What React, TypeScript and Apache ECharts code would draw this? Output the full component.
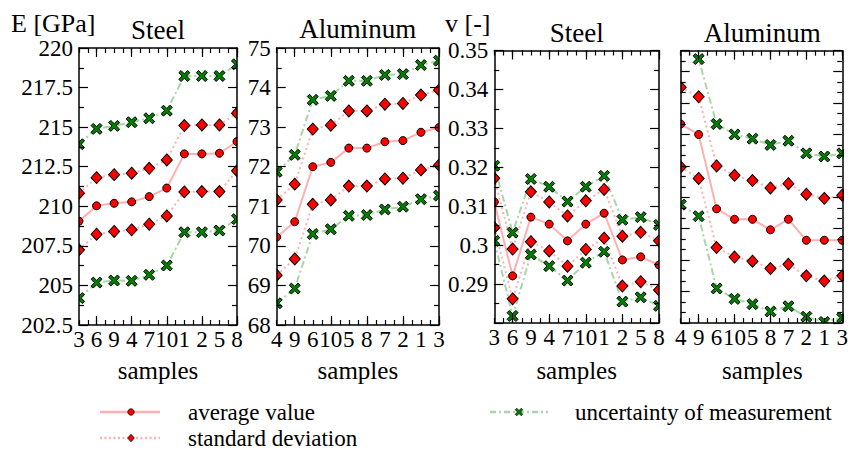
import React, { useEffect, useRef } from 'react';
import * as echarts from 'echarts';

// ---------- data ----------
const samplesSteel = ['3', '6', '9', '4', '7', '10', '1', '2', '5', '8'];
const samplesAlu = ['4', '9', '6', '10', '5', '8', '7', '2', '1', '3'];

// Young's modulus, steel [GPa]
const eSteelAvg = [209.06, 210.03, 210.19, 210.28, 210.61, 211.15, 213.31, 213.31, 213.35, 214.09];
const eSteelStdUp = [210.83, 211.81, 212.0, 212.09, 212.4, 212.93, 215.1, 215.14, 215.14, 215.88];
const eSteelStdLow = [207.25, 208.24, 208.41, 208.51, 208.87, 209.39, 210.91, 210.93, 210.93, 212.25];
const eSteelUncUp = [213.92, 214.89, 215.08, 215.31, 215.56, 216.04, 218.23, 218.23, 218.23, 218.97];
const eSteelUncLow = [204.2, 205.18, 205.31, 205.29, 205.67, 206.26, 208.36, 208.36, 208.47, 209.19];

// Young's modulus, aluminum [GPa]
const eAluAvg = [70.22, 70.61, 72.0, 72.11, 72.47, 72.47, 72.63, 72.66, 72.87, 72.99];
const eAluStdUp = [71.16, 71.56, 72.95, 73.05, 73.41, 73.41, 73.58, 73.6, 73.81, 73.94];
const eAluStdLow = [69.26, 69.67, 71.05, 71.16, 71.51, 71.51, 71.69, 71.71, 71.92, 72.04];
const eAluUncUp = [71.87, 72.3, 73.69, 73.79, 74.17, 74.17, 74.32, 74.34, 74.57, 74.68];
const eAluUncLow = [68.55, 68.92, 70.3, 70.42, 70.76, 70.78, 70.92, 70.99, 71.18, 71.27];

// Poisson ratio, steel [-]
const vSteelAvg = [0.3111, 0.2921, 0.3072, 0.3054, 0.3011, 0.3054, 0.3082, 0.2962, 0.297, 0.2949];
const vSteelStdUp = [0.3172, 0.299, 0.3137, 0.3111, 0.3075, 0.3114, 0.3143, 0.3023, 0.3033, 0.3011];
const vSteelStdLow = [0.3045, 0.2862, 0.3009, 0.2985, 0.2946, 0.2989, 0.3018, 0.2895, 0.2906, 0.2885];
const vSteelUncUp = [0.3204, 0.3032, 0.317, 0.315, 0.3112, 0.315, 0.3178, 0.3065, 0.3072, 0.3052];
const vSteelUncLow = [0.3011, 0.2818, 0.2976, 0.2946, 0.2909, 0.2955, 0.2983, 0.2855, 0.2866, 0.2844];

// Poisson ratio, aluminum [-] (axis has no labels in the original)
const vAluAvg = [0.343, 0.342, 0.3349, 0.3339, 0.3339, 0.3329, 0.3339, 0.3319, 0.3319, 0.3319];
const vAluStdUp = [0.3465, 0.3456, 0.339, 0.3381, 0.3376, 0.3369, 0.3373, 0.3363, 0.3359, 0.3362];
const vAluStdLow = [0.3389, 0.3378, 0.3312, 0.3303, 0.3299, 0.3292, 0.3296, 0.3285, 0.328, 0.3285];
const vAluUncUp = [0.3502, 0.3492, 0.343, 0.342, 0.3416, 0.341, 0.3414, 0.3402, 0.3399, 0.3402];
const vAluUncLow = [0.3353, 0.3342, 0.3273, 0.3263, 0.3258, 0.3251, 0.3256, 0.3246, 0.3241, 0.3245];

// axis ranges
const yRangeESteel = { min: 202.5, max: 220, interval: 2.5, minor: 2 };
const yRangeEAlu = { min: 68, max: 75, interval: 1, minor: 2 };
const yRangeVSteel = { min: 0.28, max: 0.35, interval: 0.01, minor: 2 };
const yRangeVAlu = { min: 0.324, max: 0.35, interval: 0.003, minor: 3 };

const panelTitles = ['Steel', 'Aluminum', 'Steel', 'Aluminum'];
const legendNames = ['average value', 'standard deviation', 'uncertainty of measurement'];
const xAxisName = 'samples';

// ---------- styling ----------
const FONT = 'Liberation Serif';
const PINK = '#ffb0b0';
const GREEN_LINE = '#a8d6a8';
const RED = '#ff0000';
const GREEN = '#008000';
const XPATH = 'path://M0,2L2,0L5,3L8,0L10,2L7,5L10,8L8,10L5,7L2,10L0,8L3,5Z';

const layout = [
  { left: 79, top: 48, width: 158, height: 277, titleY: 30 },
  { left: 276.7, top: 48, width: 162.3, height: 277, titleY: 28.5 },
  { left: 494.3, top: 50.5, width: 164.7, height: 272.5, titleY: 33 },
  { left: 680.7, top: 50.7, width: 163.3, height: 272.3, titleY: 33 },
];

const panelData = [
  { cats: samplesSteel, y: yRangeESteel, labels: true, showMin: true, s: [eSteelAvg, eSteelStdUp, eSteelStdLow, eSteelUncUp, eSteelUncLow] },
  { cats: samplesAlu, y: yRangeEAlu, labels: true, showMin: true, s: [eAluAvg, eAluStdUp, eAluStdLow, eAluUncUp, eAluUncLow] },
  { cats: samplesSteel, y: yRangeVSteel, labels: true, showMin: false, s: [vSteelAvg, vSteelStdUp, vSteelStdLow, vSteelUncUp, vSteelUncLow] },
  { cats: samplesAlu, y: yRangeVAlu, labels: false, showMin: false, s: [vAluAvg, vAluStdUp, vAluStdLow, vAluUncUp, vAluUncLow] },
];

function txt(text: string, x: number, y: number, size: number, align: string) {
  return {
    type: 'text', z: 70, x, y,
    style: { text, fontFamily: FONT, fontSize: size, fill: '#000', align, verticalAlign: 'middle' },
  };
}

function buildOption() {
  const grid: any[] = [];
  const xAxis: any[] = [];
  const yAxis: any[] = [];
  const series: any[] = [];
  const graphic: any[] = [];
  const axisLine = { show: true, onZero: false, lineStyle: { color: '#000', width: 1.5 } };
  const tickStyle = { color: '#000', width: 1.2 };

  panelData.forEach((p, i) => {
    const L = layout[i];
    grid.push({ left: L.left, top: L.top, width: L.width, height: L.height, containLabel: false });
    const half = Array.from({ length: p.cats.length * 2 - 1 }, (_, k) => String(k));
    const xBase = {
      gridIndex: i, type: 'category', boundaryGap: false, z: 60,
      splitLine: { show: false }, axisPointer: { show: false },
    };
    xAxis.push({
      ...xBase, data: p.cats, position: 'bottom', axisLine,
      axisTick: { show: true, inside: true, length: 9, interval: (idx: number) => idx % 2 === 1, lineStyle: tickStyle },
      axisLabel: { show: true, interval: 0, fontSize: 23, fontFamily: FONT, color: '#000', margin: 3 },
    });
    xAxis.push({
      ...xBase, data: p.cats, position: 'top', axisLine,
      axisTick: { show: true, inside: true, length: 9, interval: (idx: number) => idx % 2 === 1, lineStyle: tickStyle },
      axisLabel: { show: false },
    });
    ['bottom', 'top'].forEach((pos) => {
      xAxis.push({
        ...xBase, data: half, position: pos, axisLine: { show: false },
        axisTick: { show: true, inside: true, length: 5, interval: 0, lineStyle: tickStyle },
        axisLabel: { show: false },
      });
    });
    const yBase = {
      gridIndex: i, type: 'value', min: p.y.min, max: p.y.max, interval: p.y.interval, z: 60,
      axisLine, splitLine: { show: false }, minorSplitLine: { show: false },
      axisTick: { show: true, inside: true, length: 9, lineStyle: tickStyle },
      minorTick: { show: true, splitNumber: p.y.minor, length: 5, lineStyle: tickStyle },
    };
    yAxis.push({
      ...yBase, position: 'left',
      axisLabel: { show: p.labels, showMinLabel: p.showMin, fontSize: 23, fontFamily: FONT, color: '#000', margin: 6 },
    });
    yAxis.push({ ...yBase, position: 'right', axisLabel: { show: false } });

    const xi = i * 4;
    const yi = i * 2;
    const [avg, stdUp, stdLow, uncUp, uncLow] = p.s;
    const avgS = {
      type: 'line', name: legendNames[0], xAxisIndex: xi, yAxisIndex: yi, z: 2,
      symbol: 'circle', symbolSize: 8,
      lineStyle: { color: PINK, width: 2 },
      itemStyle: { color: RED, borderColor: '#000', borderWidth: 1 },
    };
    const stdS = {
      type: 'line', name: legendNames[1], xAxisIndex: xi, yAxisIndex: yi, z: 2,
      symbol: 'diamond', symbolSize: [11, 12],
      lineStyle: { color: PINK, width: 2, type: [2, 3] },
      itemStyle: { color: RED, borderColor: '#000', borderWidth: 1 },
    };
    const uncS = {
      type: 'line', name: legendNames[2], xAxisIndex: xi, yAxisIndex: yi, z: 2,
      symbol: XPATH, symbolSize: 11,
      lineStyle: { color: GREEN_LINE, width: 2, type: [7, 3, 2, 3] },
      itemStyle: { color: GREEN, borderColor: '#000', borderWidth: 1 },
    };
    series.push({ ...uncS, data: uncUp });
    series.push({ ...uncS, data: uncLow });
    series.push({ ...stdS, data: stdUp });
    series.push({ ...stdS, data: stdLow });
    series.push({ ...avgS, data: avg });

    const m = 9;
    const cover = (x: number, y: number, w: number, h: number) => ({
      type: 'rect', z: 50, silent: true, shape: { x, y, width: w, height: h }, style: { fill: '#fff' },
    });
    graphic.push(cover(L.left - m, L.top - m, m, L.height + 2 * m));
    graphic.push(cover(L.left + L.width, L.top - m, m, L.height + 2 * m));
    graphic.push(cover(L.left - m, L.top - m, L.width + 2 * m, m));
    graphic.push(cover(L.left - m, L.top + L.height, L.width + 2 * m, m));

    graphic.push(txt(panelTitles[i], L.left + L.width / 2, L.titleY, 27, 'center'));
    graphic.push(txt(xAxisName, L.left + L.width / 2, 370, 25, 'center'));
  });

  graphic.push(txt('E [GPa]', 11, 23, 26, 'left'));
  graphic.push(txt('v [-]', 445, 23, 26, 'left'));

  const legLine = (x1: number, x2: number, y: number, color: string, dash: any) => ({
    type: 'line', z: 70, shape: { x1, y1: y, x2, y2: y },
    style: { stroke: color, lineWidth: 2.5, lineDash: dash },
  });
  graphic.push(legLine(100, 160, 412, PINK, null));
  graphic.push({ type: 'circle', z: 71, shape: { cx: 131, cy: 412, r: 3.2 }, style: { fill: RED, stroke: '#000', lineWidth: 0.8 } });
  graphic.push(txt(legendNames[0], 188, 412, 23, 'left'));

  graphic.push(legLine(100, 160, 438, PINK, [2, 2.5]));
  graphic.push({
    type: 'polygon', z: 71, shape: { points: [[131, 434.3], [134.3, 438], [131, 441.7], [127.7, 438]] },
    style: { fill: RED, stroke: '#000', lineWidth: 0.8 },
  });
  graphic.push(txt(legendNames[1], 188, 438, 23, 'left'));

  graphic.push(legLine(490, 548, 412, GREEN_LINE, [6, 3, 2, 3]));
  const s = 0.75, cx = 519 - 3.75, cy = 412 - 3.75;
  const xPts = [[0, 2], [2, 0], [5, 3], [8, 0], [10, 2], [7, 5], [10, 8], [8, 10], [5, 7], [2, 10], [0, 8], [3, 5]]
    .map(([a, b]) => [cx + a * s, cy + b * s]);
  graphic.push({ type: 'polygon', z: 71, shape: { points: xPts }, style: { fill: GREEN, stroke: '#000', lineWidth: 0.7 } });
  graphic.push(txt(legendNames[2], 575, 412, 23, 'left'));

  return {
    animation: false,
    backgroundColor: '#fff',
    grid, xAxis, yAxis, series, graphic,
  };
}

export default function App() {
  const ref = useRef<HTMLDivElement>(null);
  useEffect(() => {
    if (!ref.current) return;
    const chart = echarts.init(ref.current, undefined, { renderer: 'svg' });
    chart.setOption(buildOption() as any);
    return () => chart.dispose();
  }, []);
  return <div ref={ref} style={{ position: 'absolute', left: 0, top: 0, width: 851, height: 455 }} />;
}
